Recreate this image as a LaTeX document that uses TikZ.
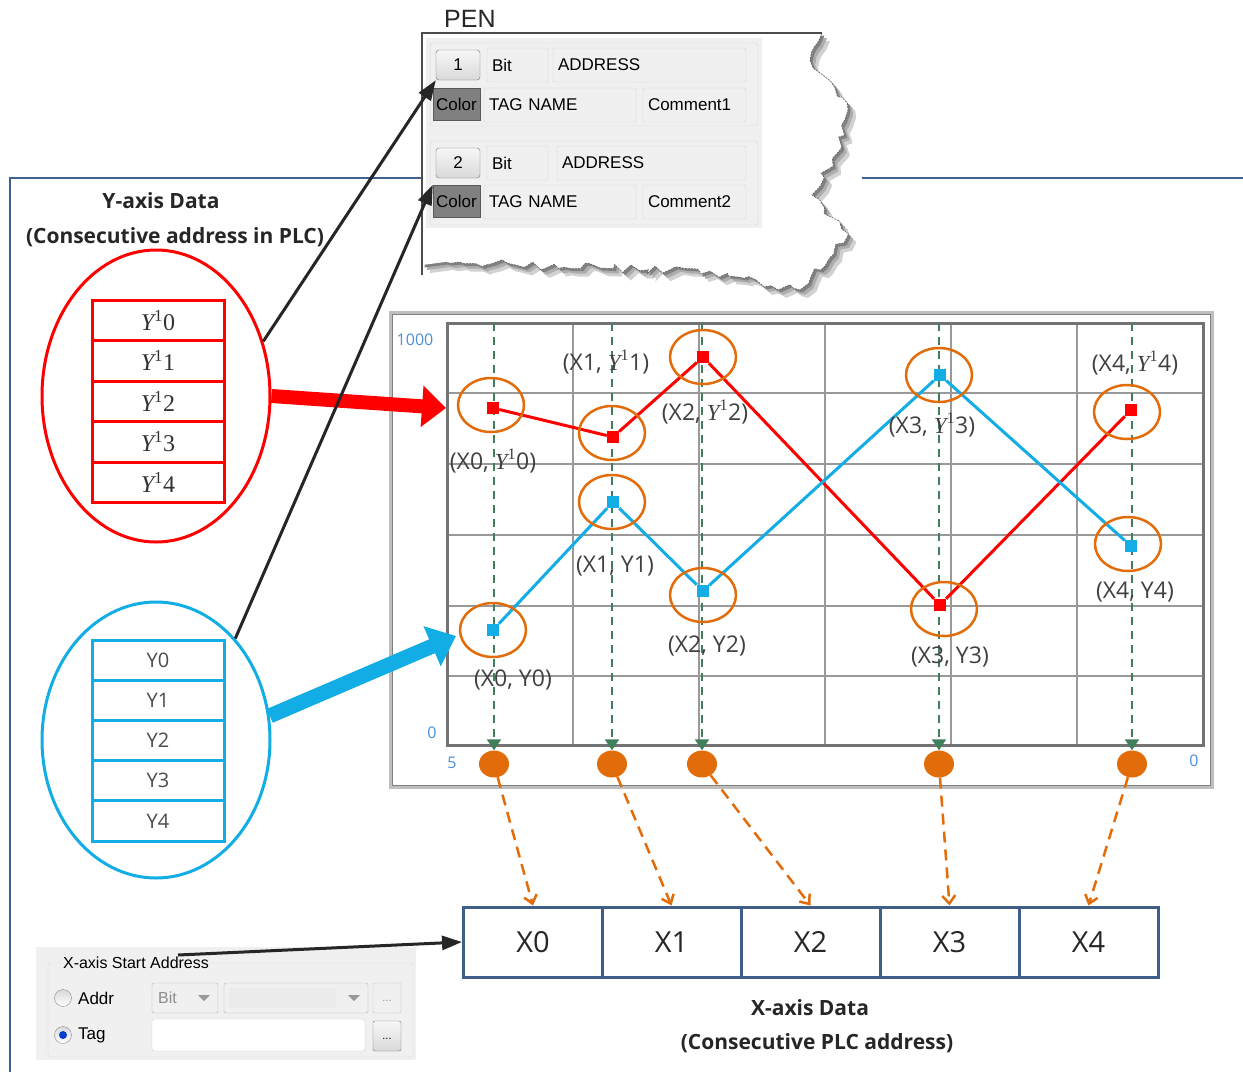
\documentclass[tikz,border=0pt]{standalone}
\usepackage{fontspec}
\setmainfont{Liberation Sans}
\newfontfamily\headfont{Open Sans}
\newfontfamily\serf{Liberation Serif}
\usetikzlibrary{arrows.meta,decorations.pathmorphing,shapes.geometric,calc}
\definecolor{frameblue}{HTML}{3F6190}
\definecolor{plred}{HTML}{FF0000}
\definecolor{plblue}{HTML}{13ADE6}
\definecolor{plorange}{HTML}{E36C0A}
\definecolor{plgreen}{HTML}{3F7F5A}
\definecolor{uibg}{HTML}{F0F0F0}
\definecolor{uiline}{HTML}{D6D6D6}
\definecolor{axisblue}{HTML}{4A8FDB}
\definecolor{txt}{HTML}{333333}
\definecolor{boxblue}{HTML}{3F5F8A}
\newcommand\fs[1]{\fontsize{#1}{#1}\selectfont}
\newcommand\Yone{{\serf\itshape Y}{\serf\textsuperscript{1}}}
\newcommand\tornpath{(822,33) decorate[decoration={random steps, segment length=7pt, amplitude=4.5pt}] { -- (810,60) -- (848,110) -- (840,150) -- (812,195) -- (848,235) -- (800,290) -- (700,272) -- (600,268) -- (445,262) }}
\begin{document}
\begin{tikzpicture}[x=1pt,y=-1pt,
  field/.style={draw=uiline, fill=uibg, rounded corners=2pt, inner xsep=5pt, inner ysep=0pt, align=left, font=\fs{17}, text=black},
  btn/.style={draw=black!55, top color=black!3, bottom color=black!15, rounded corners=3pt, inner sep=0pt, font=\fs{17}},
  colbtn/.style={draw=black!65, fill=black!50, inner sep=0pt, font=\fs{17}, minimum width=47pt, minimum height=32pt},
  head/.style={font=\headfont\bfseries\fs{21}, text=black!85, inner sep=1pt},
  redrow/.style={draw=plred, line width=3pt, minimum width=132pt, minimum height=40.5pt, inner sep=0pt, font=\serf\fs{24}, text=black!80},
  bluerow/.style={draw=plblue, line width=3pt, minimum width=132pt, minimum height=40.2pt, inner sep=0pt, font=\headfont\fs{20}, text=black!70},
  bigell/.style={ellipse, line width=3pt, minimum width=228pt, inner sep=0pt},
  blackarrow/.style={draw=black!85, line width=3pt, -{Triangle[length=20pt,width=14pt]}},
  datamark/.style={minimum size=12pt, inner sep=0pt},
  ring/.style={ellipse, draw=plorange, line width=2.5pt, minimum width=66pt, minimum height=54pt, inner sep=0pt},
  lab/.style={font=\headfont\fs{23}, text=black!75, inner sep=1pt},
  dot/.style={ellipse, fill=plorange, minimum width=30pt, minimum height=27pt, inner sep=0pt},
  axlab/.style={font=\headfont\fs{16}, text=axisblue, inner sep=0pt},
  greenarrow/.style={draw=plgreen, line width=2pt, dash pattern=on 8pt off 6pt, -{Triangle[length=11pt,width=14pt]}},
  orangearrow/.style={draw=plorange, line width=2.5pt, dash pattern=on 11pt off 7pt, -{Straight Barb[length=8pt,width=13pt]}},
  xbox/.style={draw=boxblue, line width=3pt, minimum width=139pt, minimum height=70pt, inner sep=0pt, font=\headfont\fs{29}, text=black!85},
  uitext/.style={font=\fs{16}, text=black, inner sep=1pt}
]
\useasboundingbox (0,0) rectangle (1243,1072);
\fill[white] (0,0) rectangle (1243,1072);

% outer frame
\draw[frameblue, line width=2.5pt] (10,1072) -- (10,178) -- (422,178);
\draw[frameblue, line width=2.5pt] (862,178) -- (1243,178);

% torn PEN paper with soft shadow
\pgfmathsetseed{11}
\fill[black!18, xshift=8pt, yshift=-8pt] (422,33) -- \tornpath -- (422,265) -- cycle;
\pgfmathsetseed{11}
\fill[black!32, xshift=5pt, yshift=-5pt] (422,33) -- \tornpath -- (422,265) -- cycle;
\pgfmathsetseed{11}
\fill[black!50, xshift=2.5pt, yshift=-2.5pt] (422,33) -- \tornpath -- (422,265) -- cycle;
\pgfmathsetseed{11}
\fill[white] (422,33) -- \tornpath -- (422,265) -- cycle;
\pgfmathsetseed{11}
\draw[black!65, line width=0.6pt, dash pattern=on 2pt off 1pt] \tornpath;
\draw[black!70, line width=1.5pt] (422,275) -- (422,33) -- (822,33);
\node[font=\fs{25}, text=black!85, anchor=west, inner sep=0pt] (pen) at (444,19) {PEN};

% PEN panel
\fill[uibg] (426,38) rectangle (762,228);
\draw[uiline, rounded corners=3pt] (430,43) rectangle (758,126);
\draw[uiline, rounded corners=3pt] (430,141) rectangle (758,225);
\node[btn, minimum width=44pt, minimum height=30pt] (b1) at (458,65) {1};
\node[field, text width=51pt, minimum height=34pt] (bit1) at (517.5,65) {Bit};
\node[field, text width=183pt, minimum height=34pt] (ad1) at (649.5,65) {ADDRESS};
\node[colbtn] (c1) at (456.5,104) {Color};
\node[field, text width=142pt, minimum height=34pt] (tg1) at (560,105) {TAG NAME};
\node[field, text width=93pt, minimum height=34pt] (cm1) at (694.5,105) {Comment1};
\node[btn, minimum width=44pt, minimum height=30pt] (b2) at (458,163) {2};
\node[field, text width=51pt, minimum height=34pt] (bit2) at (517.5,163) {Bit};
\node[field, text width=179pt, minimum height=34pt] (ad2) at (651.5,163) {ADDRESS};
\node[colbtn] (c2) at (456.5,201) {Color};
\node[field, text width=142pt, minimum height=34pt] (tg2) at (560,202) {TAG NAME};
\node[field, text width=93pt, minimum height=34pt] (cm2) at (694.5,202) {Comment2};

% Y-axis headings
\node[head] (yt1) at (161,201) {Y-axis Data};
\node[head] (yt2) at (175,237) {(Consecutive address in PLC)};

% red ellipse and table
\node[bigell, draw=plred, minimum height=292pt] (rE) at (156,396) {};
\foreach \i in {0,...,4}{
  \node[redrow] (ry\i) at (158,{320.25+40.5*\i}) {\Yone\i};
}
% blue ellipse and table
\node[bigell, draw=plblue, minimum height=276pt] (bE) at (156,740) {};
\foreach \i in {0,...,4}{
  \node[bluerow] (by\i) at (158,{660.1+40.2*\i}) {Y\i};
}

% chart frame and grid
\draw[black!25, line width=3pt] (390,312) rectangle (1212,787);
\draw[black!50, line width=1pt] (392,314) rectangle (1210,785);
\foreach \x in {573,699,825,951,1077} \draw[black!40, line width=1.5pt] (\x,323) -- (\x,745);
\foreach \y in {393,464,535,606,676} \draw[black!40, line width=1.5pt] (447,\y) -- (1203,\y);
\draw[black!55, line width=3pt] (447,323) rectangle (1203,745);
\node[axlab] (a1000) at (415,340) {1000};
\node[axlab] (a0) at (432,733) {0};
\node[axlab] (a5) at (452,763) {5};
\node[axlab] (a0r) at (1194,761) {0};

% orange dots under axis
\foreach \i/\x in {0/494,1/612,2/702,3/939,4/1132}{
  \node[dot] (o\i) at (\x,764) {};
  \coordinate (g\i) at (\x,323);
}
% green dashed arrows
\foreach \i in {0,...,4} \draw[greenarrow] (g\i) -- (o\i);

% data markers
\foreach \i/\x/\y in {0/493/408,1/613/437,2/703/357,3/940/605,4/1131/410}
  \node[datamark, fill=plred] (r\i) at (\x,\y) {};
\foreach \i/\x/\y in {0/493/630,1/613/502,2/703/591,3/940/375,4/1131/546}
  \node[datamark, fill=plblue] (u\i) at (\x,\y) {};
\draw[plred, line width=3pt] (r0) -- (r1) -- (r2) -- (r3) -- (r4);
\draw[plblue, line width=3pt] (u0) -- (u1) -- (u2) -- (u3) -- (u4);

% rings
\foreach \i/\x/\y in {0/491/405,1/612/433,2/703/357,3/944/609,4/1127/412}
  \node[ring] (er\i) at (\x,\y) {};
\foreach \i/\x/\y in {0/493/630,1/612/502,2/703/595,3/939/375,4/1128/544}
  \node[ring] (eb\i) at (\x,\y) {};

% point labels
\node[lab] (lr0) at (493,461) {(X0, \Yone0)};
\node[lab] (lr1) at (606,362) {(X1, \Yone1)};
\node[lab] (lr2) at (705,412) {(X2, \Yone2)};
\node[lab] (lr3) at (932,425) {(X3, \Yone3)};
\node[lab] (lr4) at (1135,363) {(X4, \Yone4)};
\node[lab] (lb0) at (513,680) {(X0, Y0)};
\node[lab] (lb1) at (615,566) {(X1, Y1)};
\node[lab] (lb2) at (707,646) {(X2, Y2)};
\node[lab] (lb3) at (950,657) {(X3, Y3)};
\node[lab] (lb4) at (1135,592) {(X4, Y4)};

% big colored arrows
\coordinate (redtip) at (446,408);
\coordinate (bluetip) at (456,636);
\draw[plred, line width=14pt, -{Triangle[length=24pt,width=40pt]}] (rE.east) -- (redtip);
\draw[plblue, line width=15pt, -{Triangle[length=26pt,width=42pt]}] (bE.12) -- (bluetip);

% black arrows to PEN
\draw[blackarrow] (rE.27) -- (b1.south west);
\draw[blackarrow] (bE.52) -- (c2.north west);

% X boxes
\foreach \i/\x in {0/533,1/671.5,2/810.5,3/949.5,4/1088.5}
  \node[xbox] (x\i) at (\x,942) {X\i};
\node[head] (xt1) at (810,1008) {X-axis Data};
\node[head] (xt2) at (817,1043) {(Consecutive PLC address)};

% orange dashed arrows
\foreach \i in {0,...,4} \draw[orangearrow] (o\i) -- (x\i.north);

% X-axis start address panel
\fill[uibg] (36,947) rectangle (416,1060);
\draw[black!15, rounded corners=3pt] (48,963) rectangle (413,1057);
\node[uitext, fill=uibg, inner xsep=2pt] (xsa) at (136,963) {X-axis Start Address};
\node[circle, draw=black!45, top color=black!15, bottom color=white, minimum size=17pt, inner sep=0pt] (rad1) at (63,998) {};
\node[uitext, anchor=west, font=\fs{17}] (addr) at (77,998) {Addr};
\node[circle, draw=black!45, top color=black!15, bottom color=white, minimum size=17pt, inner sep=0pt] (rad2) at (63,1035) {};
\node[circle, fill=blue!70!cyan!80!black, minimum size=8pt, inner sep=0pt] (rad2d) at (rad2) {};
\node[uitext, anchor=west, font=\fs{17}] (tag) at (77,1035) {Tag};
\draw[black!30, fill=uibg, rounded corners=2pt] (152,983) rectangle (218,1013);
\node[uitext, anchor=west, text=black!45] (bitc) at (157,998) {Bit};
\fill[black!40] (198,995) -- (210,995) -- (204,1001) -- cycle;
\draw[black!30, fill=uibg, rounded corners=2pt] (224,983) rectangle (368,1013);
\fill[black!8] (229,988) rectangle (336,1008);
\fill[black!40] (348,995) -- (360,995) -- (354,1001) -- cycle;
\node[draw=black!25, fill=uibg, rounded corners=2pt, minimum width=28pt, minimum height=30pt, inner sep=0pt, font=\fs{11}, text=black!45] (dots1) at (387,998) {\raisebox{-6pt}{...}};
\draw[black!20, fill=white, rounded corners=2pt] (152,1019) rectangle (365,1051);
\node[draw=black!55, top color=black!3, bottom color=black!15, rounded corners=2pt, minimum width=28pt, minimum height=30pt, inner sep=0pt, font=\fs{11}] (dots2) at (387,1036) {\raisebox{-6pt}{...}};

\coordinate (xsastart) at (178,955);
\draw[blackarrow] (xsastart) -- (x0.west);
\end{tikzpicture}
\end{document}
